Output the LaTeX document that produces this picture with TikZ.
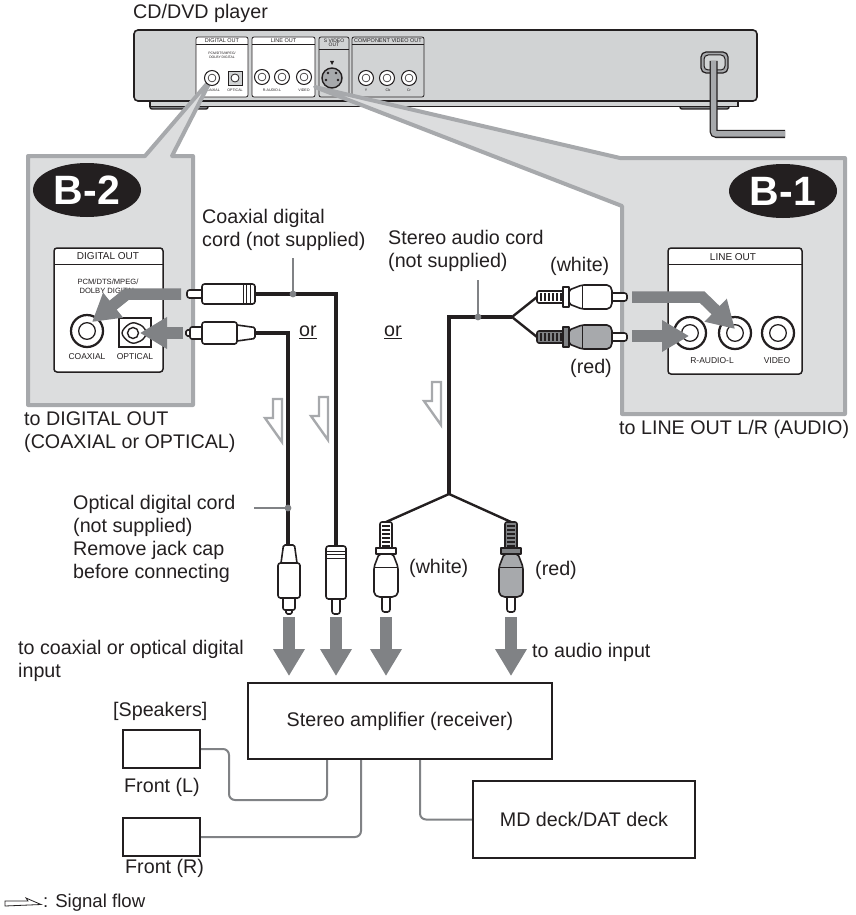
\documentclass[tikz,border=0pt]{standalone}
\usepackage{fontspec}
\setmainfont{Liberation Sans}
\usetikzlibrary{arrows.meta,shapes.geometric}
\definecolor{panelgray}{HTML}{DCDDDE}
\definecolor{bordergray}{HTML}{A7A9AC}
\definecolor{bodygray}{HTML}{D1D3D4}
\definecolor{arrowgray}{HTML}{808285}
\definecolor{inkblack}{HTML}{231F20}
\tikzset{
  lbl/.style={font=\fontsize{19.7}{23}\selectfont,inner sep=0pt,anchor=west,align=left,text=inkblack},
  tiny/.style={font=\fontsize{#1}{#1}\selectfont,inner sep=0pt,align=center,text=inkblack},
  callout/.style={fill=panelgray,draw=bordergray,line width=4pt,line join=round},
  badge/.style={ellipse,fill=inkblack,text=white,minimum width=108pt,minimum height=54pt,inner sep=0pt,
    font=\fontsize{41}{41}\selectfont\bfseries},
  card/.style={draw=inkblack,fill=white,line width=1.5pt,rounded corners=3pt},
  boxed/.style={draw=inkblack,fill=white,line width=2.2pt,inner sep=0pt,font=\fontsize{19.7}{23}\selectfont,text=inkblack},
  cable/.style={draw=inkblack,line width=3.6pt},
  leader/.style={draw=arrowgray,line width=1.2pt},
  wire/.style={draw=arrowgray,line width=2pt,rounded corners=6pt},
  bigarrow/.style={draw=arrowgray,line width=11.5pt,-{Triangle[length=27pt,width=30pt]}},
  plugline/.style={draw=inkblack,line width=1.6pt,line join=round},
  pics/jack/.style={code={
      \draw[fill=white,draw=inkblack,line width=#1*0.14pt] (0,0) circle[radius=#1];
      \draw[draw=inkblack,line width=#1*0.08pt] (0,0) circle[radius=#1*0.52];
    }},
  pics/flowarrow/.style={code={
      \draw[bordergray,line width=2.4pt,line join=miter] (0,0) -- (0,43) -- (-17,19) -- (-9,19) -- (-9,0) -- cycle;
    }},
  pics/coaxplug/.style={code={
      \draw[plugline,fill=white,rounded corners=2.5pt] (53,-4) -- (68,-4) -- (68,4) -- (53,4);
      \draw[plugline,fill=white,rounded corners=2.5pt] (0,-10) rectangle (53,10);
      \draw[inkblack,line width=0.7pt] (5,-10) -- (5,10) (8.5,-10) -- (8.5,10) (12,-10) -- (12,10);
    }},
  pics/optplug/.style={code={
      \draw[plugline,fill=white,rounded corners=1.5pt] (65,-3) -- (69,-3) -- (69,3) -- (65,3);
      \draw[plugline,fill=white,rounded corners=2pt] (53,-6) -- (65,-6) -- (65,6) -- (53,6);
      \draw[plugline,fill=white,rounded corners=1.5pt] (18,-8) -- (0,-5.5) -- (0,5.5) -- (18,8);
      \draw[plugline,fill=white,rounded corners=2.5pt] (18,-11) rectangle (53,11);
    }},
  pics/audioplug/.style args={#1/#2}{code={
      \draw[plugline,fill=white,rounded corners=2.5pt] (74,-4) -- (90,-4) -- (90,4) -- (74,4);
      \draw[plugline,fill=#2,rounded corners=2pt] (0,-6) rectangle (27,6);
      \foreach \i in {4,8,...,24} \draw[inkblack,line width=1.6pt] (\i,-4) -- (\i,4);
      \draw[plugline,fill=#1,rounded corners=2pt] (32,-7) -- (45,-12) -- (72,-12) -- (75,-8) -- (75,8) -- (72,12) -- (45,12) -- (32,7) -- cycle;
      \draw[inkblack,line width=1pt] (45,-12) -- (45,12);
      \draw[plugline,fill=#2] (26,-10) rectangle (32,10);
    }}
}
\begin{document}
\begin{tikzpicture}[x=1pt,y=-1pt]
  \useasboundingbox (0,0) rectangle (855,915);

  % player
  \node[lbl] (pname) at (133,13) {CD/DVD player};
  \draw[inkblack,line width=1.4pt,fill=arrowgray,rounded corners=2pt] (150,104) rectangle (208,109);
  \draw[inkblack,line width=1.4pt,fill=arrowgray,rounded corners=2pt] (680,104) rectangle (729,109);
  \draw[inkblack,line width=1.4pt,fill=bodygray] (150,100) -- (150,106.5) -- (738,106.5) -- (738,100) -- cycle;
  \draw[inkblack,line width=1.6pt,fill=bodygray,rounded corners=4pt] (134,30) rectangle (757,101);
  \draw[plugline,line width=0.8pt,fill=white,rounded corners=2pt] (196,37) rectangle (248,97);
  \draw[plugline,line width=0.8pt,fill=white,rounded corners=2pt] (252,37) rectangle (315,97);
  \draw[plugline,line width=0.8pt,fill=bodygray,rounded corners=2pt] (319,37) rectangle (349,97);
  \draw[plugline,line width=0.8pt,fill=bodygray,rounded corners=2pt] (352,37) rectangle (424,97);
  \draw[inkblack,line width=0.7pt] (196,44) -- (248,44) (252,44) -- (315,44) (319,49) -- (349,49) (352,44) -- (424,44);
  \node[tiny=5.5] (pdig) at (222,40.5) {DIGITAL OUT};
  \node[tiny=5.5] (pline) at (283.5,40.5) {LINE OUT};
  \node[tiny=5] (psvid) at (334,43) {S VIDEO\\[-0.5pt]OUT};
  \node[tiny=5.5] (pcomp) at (388,40.5) {COMPONENT VIDEO OUT};
  \node[tiny=3.4] (ppcm) at (222,55) {PCM/DTS/MPEG/\\[0.5pt]DOLBY DIGITAL};
  \node[tiny=3.6] (pcoax) at (212,90) {COAXIAL};
  \node[tiny=3.6] (popt) at (235,90) {OPTICAL};
  \node[tiny=3.6] (praudio) at (272,90) {R-AUDIO-L};
  \node[tiny=3.6] (pvid) at (304,90) {VIDEO};
  \node[tiny=3.6] (py) at (366,90) {Y};
  \node[tiny=3.6] (pcb) at (388,90) {Cb};
  \node[tiny=3.6] (pcr) at (409,90) {Cr};

  % power cord
  \draw[inkblack,line width=1.2pt,fill=bordergray,rounded corners=5pt] (701,52) rectangle (728,73);
  \draw[inkblack,line width=1pt,fill=bodygray,rounded corners=4pt] (704,55) rectangle (725,70);
  \coordinate (pc1) at (713.5,61);
  \coordinate (pc2) at (713.5,134);
  \coordinate (pc3) at (785,134);
  \draw[inkblack,line width=8pt,rounded corners=3pt] (pc1) -- (pc2) -- (pc3);
  \draw[bordergray,line width=5.5pt,rounded corners=3pt] (pc1) -- (pc2) -- (pc3);

  % callouts
  \draw[callout] (28,156) -- (145,156) -- (212,78) -- (172,156) -- (193,156) -- (193,405) -- (28,405) -- cycle;
  \draw[callout] (315,87) -- (620,158) -- (845,158) -- (845,414) -- (622,414) -- (622,206) -- cycle;

  % player sockets
  \pic at (212,78) {jack=7.5};
  \draw[inkblack,line width=0.8pt,fill=bodygray] (228,71) rectangle (242,85);
  \draw[inkblack,line width=0.8pt,fill=white] (235,78) circle[radius=4];
  \pic at (262,77) {jack=7.5};
  \pic at (282,77) {jack=7.5};
  \pic at (304,77) {jack=7.5};
  \draw[inkblack,line width=1.4pt,fill=bordergray] (332,78) circle[radius=10];
  \fill[inkblack] (328,73) circle[radius=1.4] (336,73) circle[radius=1.4] (326,80) circle[radius=1.4] (338,80) circle[radius=1.4];
  \fill[inkblack] (330,61) -- (334,61) -- (332,65) -- cycle;
  \pic at (366,78) {jack=7.5};
  \pic at (387,78) {jack=7.5};
  \pic at (409,78) {jack=7.5};

  \node[badge] (btwo) at (87,190) {B-2};
  \node[badge] (bone) at (783,191) {B-1};

  % digital out card
  \draw[card] (54,248) rectangle (163,372);
  \draw[inkblack,line width=0.8pt] (54,264) -- (163,264);
  \node[tiny=10] (ddig) at (108,256) {DIGITAL OUT};
  \node[tiny=7.6] (dpcm) at (108,286) {PCM/DTS/MPEG/\\[1.5pt]DOLBY DIGITAL};
  \pic at (87,331) {jack=16};
  \draw[inkblack,line width=1.6pt] (119,318) rectangle (151,347);
  \draw[inkblack,line width=1.4pt,fill=white,rounded corners=3pt] (133,322) -- (143,326) -- (147,333) -- (143,340) -- (133,344) -- (126,340) -- (121,333) -- (126,326) -- cycle;
  \draw[inkblack,line width=1.4pt] (133,333) circle[radius=5.5];
  \node[tiny=8.5] (dcoax) at (87,357) {COAXIAL};
  \node[tiny=8.5] (dopt) at (135,357) {OPTICAL};

  % line out card
  \draw[card] (668,248) rectangle (802,374);
  \draw[inkblack,line width=0.8pt] (668,264) -- (802,264);
  \node[tiny=10] (lline) at (733,257) {LINE OUT};
  \pic at (690,333) {jack=16};
  \pic at (735,333) {jack=16};
  \pic at (778,333) {jack=16};
  \node[tiny=8.5] (lraudio) at (712,361) {R-AUDIO-L};
  \node[tiny=8.5] (lvid) at (777,361) {VIDEO};

  % cables
  \coordinate (ca) at (255,294);
  \coordinate (cb) at (336,294);
  \coordinate (cc) at (336,546);
  \coordinate (oa) at (255,333);
  \coordinate (ob) at (288,333);
  \coordinate (oc) at (288,545);
  \coordinate (sa) at (449,317);
  \coordinate (sb) at (449,494);
  \coordinate (sj) at (512,317);
  \coordinate (sw) at (537,297);
  \coordinate (sr) at (537,337);
  \coordinate (vw) at (386,522);
  \coordinate (vr) at (511,522);
  \draw[cable,line join=miter] (ca) -- (cb) -- (cc);
  \draw[cable,line join=miter] (oa) -- (ob) -- (oc);
  \draw[cable,line join=miter] (sj) -- (sa) -- (sb);
  \draw[cable,line width=2.4pt] (sw) -- (sj) -- (sr);
  \draw[cable,line width=2.4pt] (vw) -- (sb) -- (vr);

  \pic[rotate=180] at (ca) {coaxplug};
  \pic[rotate=180] at (oa) {optplug};
  \pic at (sw) {audioplug=white/white};
  \pic at (sr) {audioplug=bordergray/arrowgray};
  \pic[rotate=-90] at (289,545) {optplug};
  \pic[rotate=-90] at (cc) {coaxplug};
  \pic[rotate=-90] at (vw) {audioplug=white/white};
  \pic[rotate=-90] at (vr) {audioplug=bordergray/arrowgray};

  % leaders
  \coordinate (lca) at (293,258);
  \coordinate (lcb) at (293,294);
  \coordinate (lsa) at (478,280);
  \coordinate (lsb) at (478,317);
  \coordinate (loa) at (254,508);
  \coordinate (lob) at (288,508);
  \draw[leader] (lca) -- (lcb);
  \draw[leader] (lsa) -- (lsb);
  \draw[leader] (loa) -- (lob);
  \fill[arrowgray] (lcb) circle[radius=3.4] (lsb) circle[radius=3.4] (lob) circle[radius=3.4];

  % arrows into the sockets
  \coordinate (aa) at (181,294);
  \coordinate (ab) at (127,294);
  \coordinate (ac) at (92,322);
  \coordinate (ad) at (183,333);
  \coordinate (ae) at (140,333);
  \coordinate (af) at (632,297);
  \coordinate (ag) at (702,297);
  \coordinate (ah) at (735,329);
  \coordinate (ai) at (632,336);
  \coordinate (aj) at (689,336);
  \draw[bigarrow,line join=miter] (aa) -- (ab) -- (ac);
  \draw[bigarrow] (ad) -- (ae);
  \draw[bigarrow,line join=miter] (af) -- (ag) -- (ah);
  \draw[bigarrow] (ai) -- (aj);

  % arrows into the amplifier
  \foreach \n/\x in {da/289,db/336,dc/386,dd/511}{
    \coordinate (\n s) at (\x,617);
    \coordinate (\n t) at (\x,676);
    \draw[bigarrow] (\n s) -- (\n t);
  }

  \pic at (282,399) {flowarrow};
  \pic at (328,397) {flowarrow};
  \pic at (441,382) {flowarrow};

  % labels
  \node[lbl] (lcoax) at (202,230) {Coaxial digital\\cord (not supplied)};
  \node[lbl] (lstereo) at (388,251) {Stereo audio cord\\(not supplied)};
  \node[lbl] (lw) at (550,266) {(white)};
  \node[lbl] (lr) at (570,368) {(red)};
  \node[lbl] (ora) at (299,332) {\underline{or}};
  \node[lbl] (orb) at (384,332) {\underline{or}};
  \node[lbl] (ldig) at (24,432) {to DIGITAL OUT\\(COAXIAL or OPTICAL)};
  \node[lbl] (llin) at (619,429) {to LINE OUT L/R (AUDIO)};
  \node[lbl] (lopt) at (73,538.5) {Optical digital cord\\(not supplied)\\Remove jack cap\\before connecting};
  \node[lbl] (vwl) at (409,568) {(white)};
  \node[lbl] (vrl) at (535,570) {(red)};
  \node[lbl] (ldin) at (18,660.5) {to coaxial or optical digital\\input};
  \node[lbl] (lain) at (532,652) {to audio input};
  \node[lbl] (lspk) at (113,711) {[Speakers]};

  % amplifier and speakers
  \node[boxed,minimum width=304pt,minimum height=76pt] (amp) at (400,721) {Stereo amplifier (receiver)};
  \node[boxed,minimum width=222pt,minimum height=77pt] (deck) at (584,819.5) {MD deck/DAT deck};
  \node[boxed,minimum width=77pt,minimum height=38pt] (spkl) at (161.5,749) {};
  \node[boxed,minimum width=77pt,minimum height=38pt] (spkr) at (161.5,837) {};
  \node[lbl] (fl) at (124,787) {Front (L)};
  \node[lbl] (fr) at (125,868) {Front (R)};

  \coordinate (wla) at (229,800);
  \coordinate (wlb) at (327,800);
  \coordinate (wrb) at (361,837);
  \coordinate (wma) at (420,819.5);
  \draw[wire] (spkl.east) -| (wla) -- (wlb) -- (wlb |- amp.south);
  \draw[wire] (spkr.east) -- (wrb) -- (wrb |- amp.south);
  \draw[wire] (deck.west) -- (wma) -- (wma |- amp.south);

  % legend
  \draw[inkblack,line width=0.8pt,fill=white] (5,901) -- (28,901) -- (26,898) -- (41,904.5) -- (5,906) -- cycle;
  \node[lbl,font=\fontsize{18.6}{22}\selectfont] (lflow) at (43,903) {: Signal flow};
\end{tikzpicture}
\end{document}
